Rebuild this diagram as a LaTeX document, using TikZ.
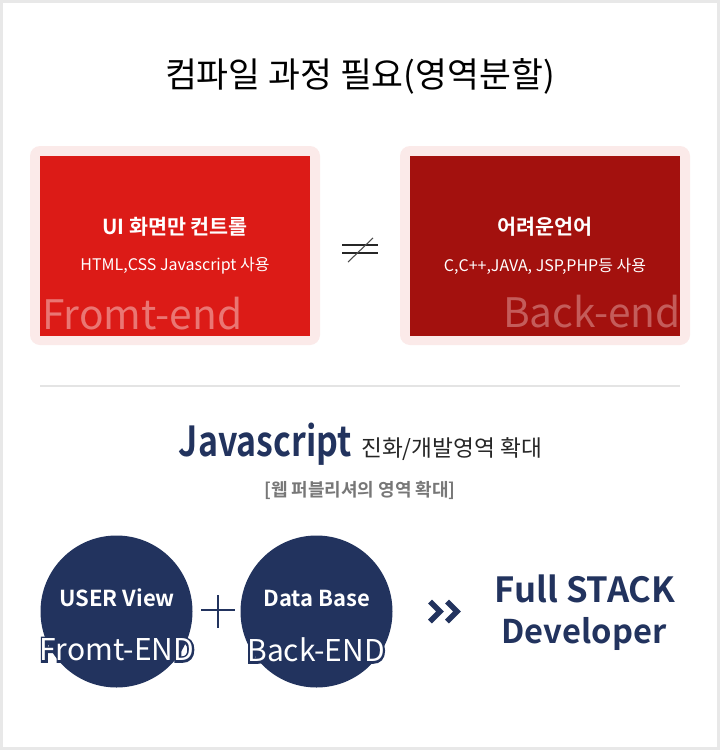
\documentclass[tikz,border=0pt]{standalone}
\usepackage{fontspec}
\setmainfont{Noto Sans CJK KR}[BoldFont={Noto Sans CJK KR Bold}]
\newfontfamily\jsfont{Noto Sans CJK KR Bold}[FakeStretch=0.82]
\newfontfamily\rimfont{Noto Sans CJK KR}[FakeBold=14]
\usetikzlibrary{positioning}

\definecolor{framegray}{HTML}{E8E8E8}
\definecolor{rulegray}{HTML}{E4E4E4}
\definecolor{pinkbg}{HTML}{FBEAE9}
\definecolor{frontred}{HTML}{DC1B17}
\definecolor{backred}{HTML}{A3110E}
\definecolor{frontfaint}{HTML}{EA7673}
\definecolor{backfaint}{HTML}{C45C5A}
\definecolor{navy}{HTML}{22335E}
\definecolor{notegray}{HTML}{777777}

\tikzset{
  boxtitle/.style={text=white, font=\bfseries\fontsize{15.5}{17}\selectfont},
  boxsub/.style={text=white, font=\fontsize{12}{14}\selectfont},
  hand/.style={font=\fontsize{#1}{#1}\selectfont, inner sep=0pt},
  boldhand/.style={font=\bfseries\fontsize{#1}{#1}\selectfont, inner sep=0pt},
  rim/.style={font=\rimfont\fontsize{#1}{#1}\selectfont, inner sep=0pt, text=navy},
  circlebox/.style={circle, fill=navy, minimum size=114pt, inner sep=0pt},
  circletext/.style={text=white, font=\bfseries\fontsize{16.5}{18}\selectfont}
}

\begin{document}
\begin{tikzpicture}[x=0.75pt, y=-0.75pt]
\useasboundingbox (0,0) rectangle (720,750);
\fill[white] (0,0) rectangle (720,750);
\draw[framegray, line width=2.2pt] (1.5,1.5) rectangle (718.5,748.5);

% title
\node[hand=26] (title) at (360,76) {컴파일 과정 필요(영역분할)};

% front-end box
\fill[pinkbg, rounded corners=7.5pt] (30,146) rectangle (320,345);
\fill[frontred] (40,156) rectangle (310,336);
\node[boxtitle] (fronttitle) at (175,227) {UI 화면만 컨트롤};
\node[boxsub] (frontsub) at (175,266) {HTML,CSS Javascript 사용};
\node[hand=30.5, text=frontfaint, anchor=west] (frontlabel) at (42,314) {Fromt-end};

% back-end box
\fill[pinkbg, rounded corners=7.5pt] (400,146) rectangle (690,345);
\fill[backred] (410,156) rectangle (680,336);
\node[boxtitle] (backtitle) at (545,227) {어려운언어};
\node[boxsub] (backsub) at (545,266) {C,C++,JAVA, JSP,PHP등 사용};
\node[hand=30.5, text=backfaint, anchor=east] (backlabel) at (681,312) {Back-end};

% not equal
\draw[black!85, line width=0.9pt] (342,245) -- (378,245);
\draw[black!85, line width=0.9pt] (342,253) -- (378,253);
\draw[black!70, line width=0.8pt] (348,262) -- (373,238);

% separator
\draw[rulegray, line width=1pt] (40,386) -- (680,386);

% javascript heading
\node[text=navy, font=\jsfont\fontsize{31}{34}\selectfont, anchor=base east, inner sep=0pt] (jstitle) at (352,456) {Javascript};
\node[text=black!85, font=\fontsize{17}{19}\selectfont, anchor=base west, inner sep=0pt] (jsrest) at (361,456) {진화/개발영역 확대};
\node[text=notegray, font=\bfseries\fontsize{13.5}{15}\selectfont] (jsnote) at (360,490) {[웹 퍼블리셔의 영역 확대]};

% circles
\node[circlebox] (userview) at (116.5,611.5) {};
\node[circlebox] (database) at (316.5,611.5) {};
\node[circletext] (usertext) at (117,598) {USER View};
\node[circletext] (datatext) at (317,598) {Data Base};
\node[rim=22.5] (frontrim) at (117,650) {Fromt-END};
\node[rim=22.5] (backrim) at (316,650) {Back-END};
\node[hand=22.5, text=white] (frontend) at (117,650) {Fromt-END};
\node[hand=22.5, text=white] (backend) at (316,650) {Back-END};

% plus
\draw[navy, line width=1.1pt] (201,610) -- (235,610);
\draw[navy, line width=1.1pt] (218,595) -- (218,628);

% double chevron
\draw[navy, line width=4pt] (430,601.5) -- (440,611.5) -- (430,621.5);
\draw[navy, line width=4pt] (447,601.5) -- (457,611.5) -- (447,621.5);

% full stack developer
\node[boldhand=26, text=navy] (fullstack) at (585,589) {Full STACK};
\node[boldhand=24.5, text=navy] (developer) at (584,634) {Developer};
\end{tikzpicture}
\end{document}
